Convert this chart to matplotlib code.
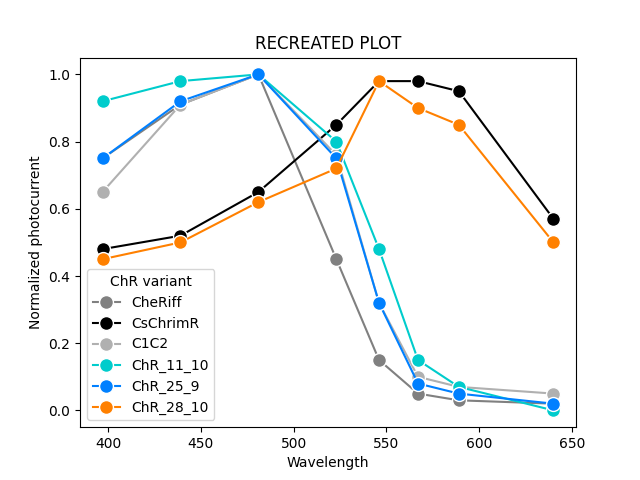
import matplotlib
matplotlib.use("Agg")
import matplotlib.pyplot as plt

wavelengths = [397, 439, 481, 523, 546, 567, 589, 640]
variants = ["CheRiff", "CsChrimR", "C1C2", "ChR_11_10", "ChR_25_9", "ChR_28_10"]
cheriff = [0.75, 0.91, 1.00, 0.45, 0.15, 0.05, 0.03, 0.02]
cschrimr = [0.48, 0.52, 0.65, 0.85, 0.98, 0.98, 0.95, 0.57]
c1c2 = [0.65, 0.91, 1.00, 0.76, 0.32, 0.10, 0.07, 0.05]
chr_11_10 = [0.92, 0.98, 1.00, 0.80, 0.48, 0.15, 0.07, 0.00]
chr_25_9 = [0.75, 0.92, 1.00, 0.75, 0.32, 0.08, 0.05, 0.02]
chr_28_10 = [0.45, 0.50, 0.62, 0.72, 0.98, 0.90, 0.85, 0.50]
series = [cheriff, cschrimr, c1c2, chr_11_10, chr_25_9, chr_28_10]
colors = ["#808080", "#000000", "#B0B0B0", "#00CCCC", "#0080FF", "#FF8000"]

fig, ax = plt.subplots(figsize=(6.4, 4.8), dpi=100)
for name, vals, c in zip(variants, series, colors):
    ax.plot(wavelengths, vals, marker="o", color=c, label=name, linewidth=1.5,
            markersize=10, markeredgecolor="white", markeredgewidth=1)
ax.set_title("RECREATED PLOT")
ax.set_xlabel("Wavelength")
ax.set_ylabel("Normalized photocurrent")
ax.legend(title="ChR variant", loc="lower left")
fig.savefig("out.png")
